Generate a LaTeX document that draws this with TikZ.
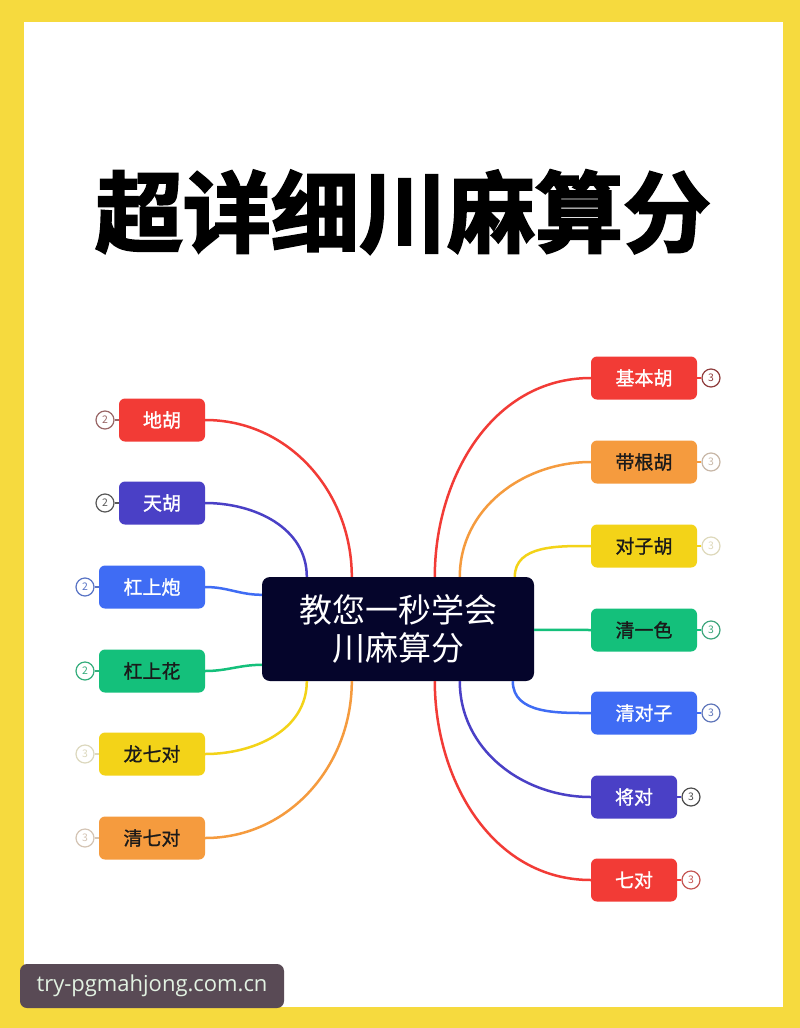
\documentclass[tikz,border=0pt]{standalone}
\usepackage{fontspec}
\setmainfont{Noto Sans CJK SC}
\newfontfamily\cjk{Noto Sans CJK SC}
\newfontfamily\cjkmed[FakeBold=1.2]{Noto Sans CJK SC}
\newfontfamily\cjktitle[FakeBold=2.5]{Noto Sans CJK SC Bold}
\newfontfamily\wmfont{Open Sans}
\usetikzlibrary{calc}
\definecolor{frameY}{HTML}{F6DA3E}
\definecolor{cRed}{HTML}{F23B36}
\definecolor{cPur}{HTML}{4A40C6}
\definecolor{cBlu}{HTML}{3F6CF4}
\definecolor{cGrn}{HTML}{14C07B}
\definecolor{cYel}{HTML}{F3D318}
\definecolor{cOrg}{HTML}{F59B3E}
\definecolor{cNavy}{HTML}{05052B}
\definecolor{wmBg}{HTML}{594A55}
\definecolor{wmTx}{HTML}{E2F2E2}
\definecolor{txDark}{HTML}{1A1A1A}
\tikzset{
  leaf/.style={rounded corners=6pt, minimum height=43pt, inner sep=0pt, font=\cjkmed\fontsize{19}{19}\selectfont},
  w3/.style={minimum width=106pt},
  w2/.style={minimum width=86pt},
  numc/.style={circle, draw=#1, line width=1.2pt, minimum size=18pt, inner sep=0pt, text=#1, font=\fontsize{10.5}{10.5}\selectfont},
  link/.style={line width=2.5pt, draw=#1},
  tick/.style={line width=1.2pt, draw=#1},
}
\begin{document}
\begin{tikzpicture}[x=1pt,y=-1pt]
\useasboundingbox (0,0) rectangle (800,1028);
\fill[frameY] (0,0) rectangle (800,1028);
\fill[white] (24,22) rectangle (783,1007);

% title
\node[font=\cjktitle\fontsize{88}{88}\selectfont, text=black] (title) at (403,212) {超详细川麻算分};

% center
\node[fill=cNavy, rounded corners=8pt, minimum width=272pt, minimum height=104pt, text=white,
  align=center, font=\cjk\fontsize{33}{38}\selectfont] (c) at (398,629) {教您一秒学会\\川麻算分};

% left nodes
\node[leaf,w2,fill=cRed,text=white] (l1) at (162,420) {地胡};
\node[leaf,w2,fill=cPur,text=white] (l2) at (162,503) {天胡};
\node[leaf,w3,fill=cBlu,text=white] (l3) at (152,587) {杠上炮};
\node[leaf,w3,fill=cGrn,text=txDark] (l4) at (152,671) {杠上花};
\node[leaf,w3,fill=cYel,text=txDark] (l5) at (152,754) {龙七对};
\node[leaf,w3,fill=cOrg,text=txDark] (l6) at (152,838) {清七对};

% right nodes
\node[leaf,w3,fill=cRed,text=white] (r1) at (644,378) {基本胡};
\node[leaf,w3,fill=cOrg,text=txDark] (r2) at (644,462) {带根胡};
\node[leaf,w3,fill=cYel,text=txDark] (r3) at (644,546) {对子胡};
\node[leaf,w3,fill=cGrn,text=txDark] (r4) at (644,630) {清一色};
\node[leaf,w3,fill=cBlu,text=white] (r5) at (644,713) {清对子};
\node[leaf,w2,fill=cPur,text=white] (r6) at (634,797) {将对};
\node[leaf,w2,fill=cRed,text=white] (r7) at (634,880) {七对};

% number circles
\node[numc=gray!80!red] (n1) at (105,420) {2};
\node[numc=gray!70!black] (n2) at (105,503) {2};
\node[numc=cBlu!60!gray] (n3) at (85,587) {2};
\node[numc=cGrn!70!gray] (n4) at (85,671) {2};
\node[numc=cYel!35!gray!40] (n5) at (85,754) {3};
\node[numc=cOrg!35!gray!50] (n6) at (85,838) {3};
\node[numc=gray!60!red!80!black] (m1) at (711,378) {3};
\node[numc=cOrg!30!gray!60] (m2) at (711,462) {3};
\node[numc=cYel!40!gray!40] (m3) at (711,546) {3};
\node[numc=cGrn!60!gray] (m4) at (711,630) {3};
\node[numc=cBlu!50!gray] (m5) at (711,713) {3};
\node[numc=gray!60!black] (m6) at (691,797) {3};
\node[numc=cRed!60!gray] (m7) at (691,880) {3};

\foreach \a/\b/\col in {n1/l1/gray!80!red, n2/l2/gray!70!black, n3/l3/cBlu!60!gray, n4/l4/cGrn!70!gray, n5/l5/cYel!40!gray!40, n6/l6/cOrg!40!gray!50}
  \draw[tick=\col] (\a.east) -- (\b.west);
\foreach \a/\b/\col in {m1/r1/cRed, m2/r2/cOrg, m3/r3/cYel, m4/r4/cGrn, m5/r5/cBlu, m6/r6/cPur, m7/r7/cRed}
  \draw[tick=\col] (\a.west) -- (\b.east);

% anchor points on center box
\coordinate (tL1) at ($(c.north west)+(90,0)$);
\coordinate (tL2) at ($(c.north west)+(45,0)$);
\coordinate (sL3) at ($(c.north west)+(0,18)$);
\coordinate (sL4) at ($(c.north west)+(0,88)$);
\coordinate (bL5) at ($(c.south west)+(45,0)$);
\coordinate (bL6) at ($(c.south west)+(90,0)$);
\coordinate (tR1) at ($(c.north west)+(173,0)$);
\coordinate (tR2) at ($(c.north west)+(198,0)$);
\coordinate (tR3) at ($(c.north west)+(253,0)$);
\coordinate (sR4) at ($(c.north east)+(0,53)$);
\coordinate (bR5) at ($(c.south west)+(251,0)$);
\coordinate (bR6) at ($(c.south west)+(198,0)$);
\coordinate (bR7) at ($(c.south west)+(173,0)$);

\draw[link=cRed] (l1.east) to[out=0,in=90] (tL1);
\draw[link=cPur] (l2.east) to[out=0,in=90] (tL2);
\draw[link=cBlu] (l3.east) to[out=0,in=180] (sL3);
\draw[link=cGrn] (l4.east) to[out=0,in=180] (sL4);
\draw[link=cYel] (l5.east) to[out=0,in=-90] (bL5);
\draw[link=cOrg] (l6.east) to[out=0,in=-90] (bL6);
\draw[link=cRed] (r1.west) to[out=180,in=90] (tR1);
\draw[link=cOrg] (r2.west) to[out=180,in=90] (tR2);
\draw[link=cYel] (r3.west) to[out=180,in=90] (tR3);
\draw[link=cGrn] (r4.west) -- (sR4);
\draw[link=cBlu] (r5.west) to[out=180,in=-90] (bR5);
\draw[link=cPur] (r6.west) to[out=180,in=-90] (bR6);
\draw[link=cRed] (r7.west) to[out=180,in=-90] (bR7);

% watermark
\node[fill=wmBg, rounded corners=7pt, minimum width=264pt, minimum height=44pt, inner sep=0pt,
  text=wmTx, font=\wmfont\fontsize{22}{22}\selectfont] (wm) at (152,986) {try-pgmahjong.com.cn};
\end{tikzpicture}
\end{document}
